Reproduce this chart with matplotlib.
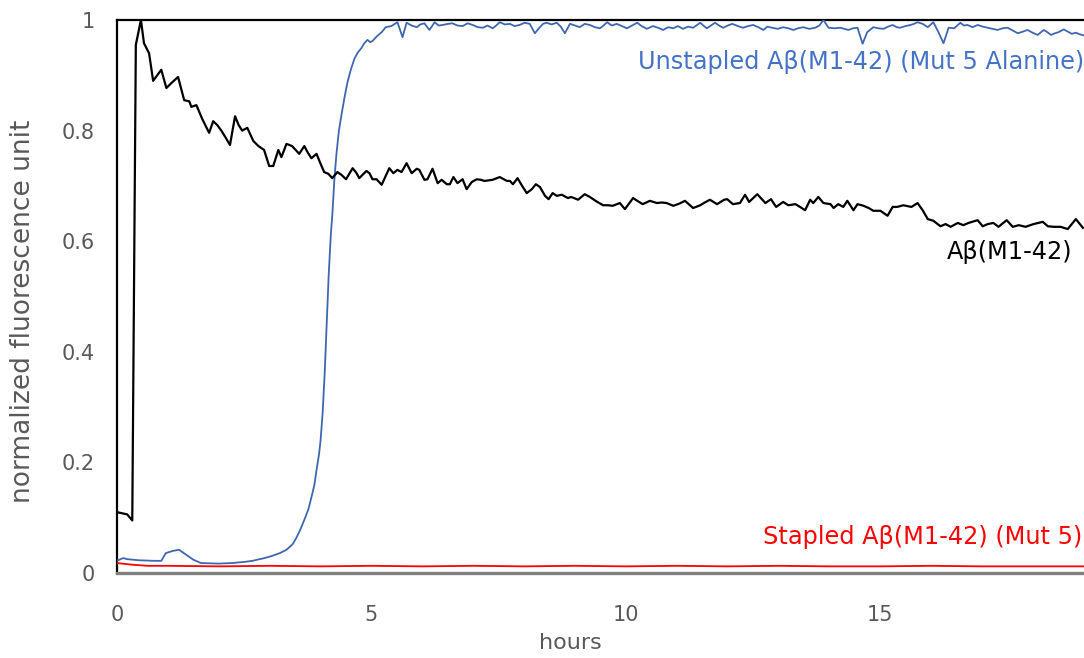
import matplotlib
matplotlib.use("Agg")
import matplotlib.pyplot as plt

plt.rcParams["font.family"] = ["DejaVu Sans"]

# Aβ(M1-42) wild type
hours_wt = [0.0, 0.1, 0.2, 0.3, 0.37, 0.47, 0.53, 0.63, 0.71, 0.79, 0.87, 0.97, 1.08, 1.2, 1.32,
            1.42, 1.46, 1.56, 1.68, 1.81, 1.89, 1.97, 2.05, 2.13, 2.22, 2.32, 2.39, 2.46, 2.56,
            2.68, 2.78, 2.89, 2.99, 3.07, 3.17, 3.23, 3.33, 3.44, 3.51, 3.58, 3.68, 3.75, 3.82,
            3.92, 4.0, 4.07, 4.15, 4.23, 4.33, 4.41, 4.5, 4.63, 4.7, 4.76, 4.9, 4.96, 5.02, 5.1,
            5.2, 5.35, 5.43, 5.51, 5.59, 5.69, 5.79, 5.89, 5.94, 6.04, 6.1, 6.2, 6.3, 6.38, 6.48,
            6.54, 6.61, 6.69, 6.79, 6.87, 6.97, 7.07, 7.15, 7.22, 7.3, 7.38, 7.52, 7.66, 7.72,
            7.78, 7.87, 7.96, 8.05, 8.15, 8.23, 8.31, 8.41, 8.48, 8.56, 8.64, 8.74, 8.86, 8.92,
            8.98, 9.06, 9.19, 9.29, 9.42, 9.55, 9.65, 9.74, 9.88, 9.98, 10.14, 10.24, 10.33,
            10.47, 10.61, 10.7, 10.8, 10.93, 11.05, 11.16, 11.32, 11.46, 11.55, 11.65, 11.79,
            11.93, 11.99, 12.1, 12.24, 12.34, 12.42, 12.58, 12.66, 12.74, 12.85, 12.95, 13.09,
            13.19, 13.33, 13.42, 13.52, 13.62, 13.68, 13.78, 13.88, 14.02, 14.08, 14.17, 14.27,
            14.35, 14.47, 14.55, 14.67, 14.77, 14.86, 15.0, 15.14, 15.24, 15.33, 15.45, 15.61,
            15.73, 15.83, 15.93, 16.04, 16.18, 16.28, 16.38, 16.52, 16.63, 16.73, 16.91, 17.01,
            17.11, 17.22, 17.32, 17.48, 17.6, 17.72, 17.85, 18.01, 18.19, 18.29, 18.41, 18.54,
            18.68, 18.84, 18.98]
signal_wt = [0.11, 0.108, 0.106, 0.095, 0.955, 1.0, 0.958, 0.94, 0.89, 0.9, 0.91, 0.877, 0.887,
             0.897, 0.855, 0.853, 0.843, 0.846, 0.82, 0.796, 0.817, 0.81, 0.8, 0.788, 0.774,
             0.826, 0.81, 0.8, 0.805, 0.781, 0.772, 0.765, 0.736, 0.736, 0.765, 0.752, 0.776,
             0.772, 0.765, 0.758, 0.772, 0.76, 0.75, 0.758, 0.74, 0.725, 0.722, 0.714, 0.725,
             0.72, 0.712, 0.732, 0.724, 0.714, 0.727, 0.723, 0.712, 0.712, 0.702, 0.732, 0.723,
             0.729, 0.725, 0.741, 0.723, 0.731, 0.729, 0.711, 0.712, 0.731, 0.705, 0.711, 0.703,
             0.703, 0.716, 0.705, 0.712, 0.694, 0.707, 0.712, 0.711, 0.709, 0.71, 0.711, 0.716,
             0.709, 0.709, 0.703, 0.714, 0.7, 0.687, 0.694, 0.703, 0.698, 0.682, 0.676, 0.687,
             0.682, 0.684, 0.678, 0.68, 0.678, 0.675, 0.685, 0.68, 0.672, 0.665, 0.665, 0.664,
             0.669, 0.658, 0.678, 0.672, 0.667, 0.673, 0.669, 0.67, 0.669, 0.664, 0.668, 0.673,
             0.66, 0.665, 0.67, 0.675, 0.667, 0.675, 0.676, 0.667, 0.669, 0.684, 0.671, 0.685,
             0.677, 0.669, 0.676, 0.662, 0.671, 0.665, 0.667, 0.662, 0.656, 0.675, 0.669, 0.68,
             0.669, 0.667, 0.66, 0.667, 0.662, 0.673, 0.656, 0.667, 0.664, 0.66, 0.655, 0.655,
             0.646, 0.662, 0.662, 0.665, 0.662, 0.669, 0.656, 0.64, 0.637, 0.627, 0.631, 0.626,
             0.633, 0.629, 0.633, 0.638, 0.627, 0.631, 0.633, 0.626, 0.638, 0.626, 0.629, 0.626,
             0.631, 0.635, 0.627, 0.626, 0.626, 0.622, 0.64, 0.624]

# Unstapled Aβ(M1-42), Mut 5 alanine
hours_ala = [0.0, 0.12, 0.2, 0.43, 0.73, 0.87, 0.96, 1.1, 1.22, 1.36, 1.5, 1.65, 2.0, 2.26, 2.5,
             2.66, 2.9, 3.05, 3.2, 3.33, 3.45, 3.52, 3.6, 3.68, 3.76, 3.82, 3.88, 3.92, 3.97, 4.0,
             4.04, 4.08, 4.12, 4.16, 4.2, 4.23, 4.27, 4.31, 4.36, 4.41, 4.47, 4.53, 4.6, 4.67,
             4.73, 4.8, 4.86, 4.92, 4.98, 5.02, 5.1, 5.2, 5.28, 5.39, 5.51, 5.61, 5.69, 5.79,
             5.89, 5.96, 6.04, 6.14, 6.24, 6.32, 6.4, 6.5, 6.59, 6.69, 6.79, 6.89, 6.99, 7.09,
             7.19, 7.28, 7.38, 7.45, 7.52, 7.62, 7.72, 7.81, 7.91, 8.01, 8.11, 8.21, 8.31, 8.37,
             8.44, 8.54, 8.64, 8.72, 8.8, 8.9, 9.0, 9.09, 9.19, 9.29, 9.39, 9.49, 9.56, 9.63,
             9.72, 9.82, 9.92, 10.02, 10.12, 10.22, 10.31, 10.41, 10.53, 10.63, 10.73, 10.83,
             10.93, 11.02, 11.12, 11.22, 11.32, 11.46, 11.52, 11.59, 11.67, 11.75, 11.83, 11.91,
             12.0, 12.09, 12.2, 12.3, 12.4, 12.5, 12.6, 12.7, 12.78, 12.87, 12.98, 13.09, 13.19,
             13.29, 13.38, 13.48, 13.6, 13.72, 13.8, 13.88, 13.98, 14.1, 14.21, 14.29, 14.37,
             14.46, 14.55, 14.65, 14.74, 14.86, 14.96, 15.06, 15.15, 15.24, 15.32, 15.39, 15.49,
             15.59, 15.66, 15.73, 15.83, 15.93, 16.04, 16.14, 16.24, 16.34, 16.45, 16.57, 16.64,
             16.71, 16.81, 16.91, 17.01, 17.11, 17.2, 17.3, 17.4, 17.5, 17.6, 17.7, 17.8, 17.89,
             17.99, 18.09, 18.21, 18.28, 18.35, 18.43, 18.5, 18.6, 18.68, 18.76, 18.84, 18.92,
             19.0]
signal_ala = [0.022, 0.027, 0.025, 0.023, 0.022, 0.022, 0.036, 0.04, 0.042, 0.033, 0.024, 0.018,
              0.017, 0.018, 0.02, 0.022, 0.027, 0.031, 0.036, 0.042, 0.052, 0.063, 0.078, 0.096,
              0.115, 0.137, 0.16, 0.186, 0.215, 0.24, 0.289, 0.36, 0.45, 0.54, 0.61, 0.647, 0.71,
              0.756, 0.8, 0.828, 0.86, 0.888, 0.912, 0.931, 0.941, 0.949, 0.958, 0.964, 0.96,
              0.962, 0.97, 0.978, 0.987, 0.989, 0.996, 0.969, 0.995, 0.99, 0.987, 0.992, 0.994,
              0.982, 0.996, 0.99, 0.991, 0.993, 0.994, 0.99, 0.989, 0.994, 0.991, 0.987, 0.986,
              0.99, 0.985, 0.99, 0.996, 0.992, 0.993, 0.989, 0.991, 0.995, 0.993, 0.976, 0.987,
              0.993, 0.995, 0.992, 0.995, 0.988, 0.976, 0.993, 0.99, 0.987, 0.993, 0.991, 0.987,
              0.985, 0.99, 0.996, 0.99, 0.993, 0.989, 0.985, 0.99, 0.995, 0.989, 0.984, 0.989,
              0.986, 0.982, 0.987, 0.985, 0.989, 0.984, 0.988, 0.986, 0.995, 0.99, 0.985, 0.99,
              0.995, 0.99, 0.986, 0.99, 0.993, 0.989, 0.986, 0.989, 0.991, 0.987, 0.982, 0.988,
              0.986, 0.984, 0.987, 0.985, 0.982, 0.985, 0.987, 0.984, 0.986, 0.99, 1.0, 0.986,
              0.985, 0.986, 0.984, 0.982, 0.985, 0.986, 0.957, 0.978, 0.987, 0.985, 0.984, 0.988,
              0.991, 0.987, 0.986, 0.989, 0.991, 0.993, 0.996, 0.993, 0.987, 0.996, 0.978, 0.958,
              0.986, 0.985, 0.995, 0.99, 0.991, 0.987, 0.991, 0.988, 0.986, 0.984, 0.982, 0.985,
              0.986, 0.981, 0.976, 0.979, 0.982, 0.977, 0.973, 0.982, 0.978, 0.973, 0.976, 0.978,
              0.983, 0.979, 0.975, 0.977, 0.974, 0.972]

# Stapled Aβ(M1-42), Mut 5
hours_stapled = [0.0, 0.1, 0.3, 0.6, 1.0, 2.0, 3.0, 4.0, 5.0, 6.0, 7.0, 8.0, 9.0, 10.0, 11.0,
                 12.0, 13.0, 14.0, 15.0, 16.0, 17.0, 18.0, 19.0]
signal_stapled = [0.018, 0.017, 0.015, 0.013, 0.013, 0.012, 0.013, 0.012, 0.013, 0.012, 0.013,
                  0.012, 0.013, 0.012, 0.013, 0.012, 0.013, 0.012, 0.012, 0.013, 0.012, 0.012,
                  0.012]

x_ticks = [0, 5, 10, 15]
y_ticks = [0, 0.2, 0.4, 0.6, 0.8, 1.0]
y_tick_labels = ["0", "0.2", "0.4", "0.6", "0.8", "1"]

BLUE = "#4472C4"
RED = "#FF0000"
GRAY = "#595959"

fig = plt.figure(figsize=(10.84, 6.58), dpi=100)
ax = fig.add_axes([117 / 1084, 85 / 658, 1 - 117 / 1084, (573 - 20) / 658])

ax.plot(hours_stapled, signal_stapled, color=RED, lw=1.3, zorder=3)
ax.plot(hours_ala, signal_ala, color="#3E67B0", lw=1.3, zorder=3)
ax.plot(hours_wt, signal_wt, color="black", lw=1.6, zorder=4)

ax.set_xlim(0, 19)
ax.set_ylim(0, 1)
ax.set_xticks(x_ticks)
ax.set_yticks(y_ticks)
ax.set_yticklabels(y_tick_labels)
ax.tick_params(length=0, labelsize=15, labelcolor=GRAY)
ax.tick_params(axis="x", pad=23)
ax.tick_params(axis="y", pad=16)

for side in ("left", "top"):
    ax.spines[side].set_color("black")
    ax.spines[side].set_linewidth(1.6)
ax.spines["bottom"].set_color("#808080")
ax.spines["bottom"].set_linewidth(2.4)
ax.spines["right"].set_visible(False)

ax.set_xlabel("hours", fontsize=16, color=GRAY)
ax.set_ylabel("normalized fluorescence unit", fontsize=19, color=GRAY)
ax.xaxis.set_label_coords((570 - 117) / 967, -(633 - 573) / 553)
ax.yaxis.set_label_coords(-(117 - 36) / 967, (573 - 311) / 553)

ax.text(19.0, 0.924, "Unstapled Aβ(M1-42) (Mut 5 Alanine)", color=BLUE, fontsize=17.3,
        ha="right", va="center")
ax.text(18.78, 0.58, "Aβ(M1-42)", color="black", fontsize=17.3, ha="right", va="center")
ax.text(18.96, 0.065, "Stapled Aβ(M1-42) (Mut 5)", color=RED, fontsize=17.3,
        ha="right", va="center")

fig.savefig("out.png", dpi=100)
